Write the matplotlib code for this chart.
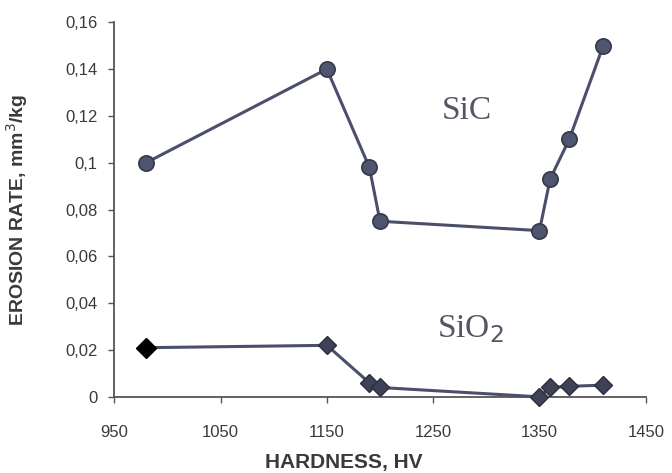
import matplotlib
matplotlib.use("agg")

import matplotlib.pyplot as plt
from matplotlib.ticker import FuncFormatter

# hardness (HV) and erosion rate (mm3/kg)
hardness = [980, 1150, 1190, 1200, 1350, 1360, 1378, 1410]
sic_rate = [0.100, 0.140, 0.098, 0.075, 0.071, 0.093, 0.110, 0.150]
sio2_rate = [0.021, 0.022, 0.006, 0.004, 0.000, 0.004, 0.0045, 0.005]

x_ticks = [950, 1050, 1150, 1250, 1350, 1450]
y_ticks = [0, 0.02, 0.04, 0.06, 0.08, 0.10, 0.12, 0.14, 0.16]

line_col = "#4b4f6b"
text_col = "#3a3a3a"
sans = ["Liberation Sans", "DejaVu Sans"]

fig = plt.figure(figsize=(6.72, 4.73), dpi=100)
ax = fig.add_axes([0.170, 0.161, 0.791, 0.792])

ax.plot(hardness, sic_rate, color=line_col, lw=2.2, marker="o", ms=11,
        mfc="#50556f", mec="#35384a", mew=1.2, clip_on=False, zorder=3)
ax.plot(hardness, sio2_rate, color=line_col, lw=2.2, marker="D", ms=9,
        mfc="#3e4158", mec="#2c2e3c", mew=1.0, clip_on=False, zorder=3)
# first SiO2 point is drawn solid black in the original
ax.plot(hardness[:1], sio2_rate[:1], ls="none", marker="D", ms=10,
        color="black", clip_on=False, zorder=4)

ax.set_xlim(950, 1450)
ax.set_ylim(0, 0.16)
ax.set_xticks(x_ticks)
ax.set_yticks(y_ticks)
ax.yaxis.set_major_formatter(FuncFormatter(lambda v, p: f"{v:g}".replace(".", ",")))

for side in ["top", "right"]:
    ax.spines[side].set_visible(False)
for side in ["left", "bottom"]:
    ax.spines[side].set_color("#555555")
    ax.spines[side].set_linewidth(1.3)

ax.tick_params(direction="out", length=4, width=1, colors="#555555",
               labelcolor=text_col, labelsize=12)
ax.tick_params(axis="x", pad=16)
ax.tick_params(axis="y", pad=8)
for lbl in ax.get_xticklabels() + ax.get_yticklabels():
    lbl.set_family(sans)

ax.set_xlabel("HARDNESS, HV", fontsize=15, fontweight="bold", color=text_col, family=sans)
ax.xaxis.set_label_coords(0.432, -0.15)
ax.set_ylabel("EROSION RATE, mm$^3$/kg", fontsize=14, fontweight="bold",
              color=text_col, family=sans)
ax.yaxis.set_label_coords(-0.158, 0.5)

ax.text(1282, 0.122, "SiC", fontsize=24, color="#555566", ha="center", va="center",
        family="Liberation Serif")
ax.text(1285, 0.029, "SiO$_2$", fontsize=24, color="#555566", ha="center", va="center",
        family="Liberation Serif")

plt.savefig("out.png", dpi=100)
plt.close(fig)
